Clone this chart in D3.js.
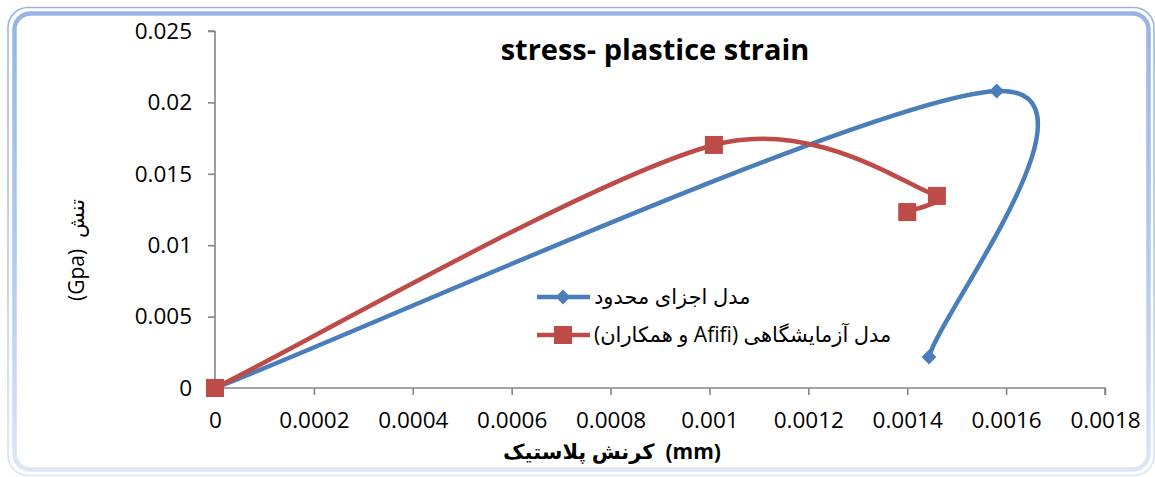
<!DOCTYPE html>
<html>
<head>
<meta charset="utf-8">
<script src="https://cdn.jsdelivr.net/npm/d3@7/dist/d3.min.js"></script>
<style>
  html, body { margin: 0; padding: 0; background: #fff; }
  svg { display: block; }
  text { font-family: "Open Sans", "DejaVu Sans", sans-serif; white-space: pre; }
</style>
</head>
<body>
<svg id="chart" width="1155" height="477"></svg>
<script>
// Series data: plastic strain (x) against stress in GPa (y)
const feStrain   = [0, 0.001581, 0.001444];
const feStress   = [0, 0.0208, 0.00217];
const expStrain  = [0, 0.001009, 0.00146, 0.0014];
const expStress  = [0, 0.01702, 0.01345, 0.01232];

const xTicks = [0, 0.0002, 0.0004, 0.0006, 0.0008, 0.001, 0.0012, 0.0014, 0.0016, 0.0018];
const yTicks = [0, 0.005, 0.01, 0.015, 0.02, 0.025];

const seriesNames = ["مدل اجزای محدود", "مدل آزمایشگاهی (Afifi و همکاران)"];
const seriesColors = ["#4a7ebb", "#be4b48"];

const titleText = "stress- plastice strain";
const xTitleText = "کرنش پلاستیک  (mm)";
const yTitleText = "(Gpa)  تنش";

const svg = d3.select("#chart");

// Rounded frame with a double light-blue border fading toward the bottom
const defs = svg.append("defs");
const grad = defs.append("linearGradient").attr("id", "frameGrad")
  .attr("x1", 0).attr("y1", 0).attr("x2", 0).attr("y2", 1);
grad.append("stop").attr("offset", "0%").attr("stop-color", "#98b4e4");
grad.append("stop").attr("offset", "60%").attr("stop-color", "#b9cced");
grad.append("stop").attr("offset", "100%").attr("stop-color", "#dde6f5");

svg.append("rect").attr("x", 8).attr("y", 7.5).attr("width", 1146).attr("height", 468)
  .attr("rx", 20).attr("fill", "none").attr("stroke", "url(#frameGrad)").attr("stroke-width", 1.6);
svg.append("rect").attr("x", 14.5).attr("y", 13.5).attr("width", 1134).attr("height", 456)
  .attr("rx", 16).attr("fill", "#fff").attr("stroke", "url(#frameGrad)").attr("stroke-width", 4.5);

// Scales
const x = d3.scaleLinear().domain([0, 0.0018]).range([215, 1105]);
const y = d3.scaleLinear().domain([0, 0.025]).range([388, 31]);

const axisColor = "#868686";

// Y axis
const yAxis = svg.append("g").attr("transform", "translate(215,0)")
  .call(d3.axisLeft(y).tickValues(yTicks).tickSize(7).tickPadding(16)
    .tickFormat(d => d === 0 ? "0" : String(+d.toFixed(3))));
// X axis
const xAxis = svg.append("g").attr("transform", "translate(0,388)")
  .call(d3.axisBottom(x).tickValues(xTicks).tickSize(7).tickPadding(17)
    .tickFormat(d => d === 0 ? "0" : String(+d.toFixed(4))));

[yAxis, xAxis].forEach(g => {
  g.select(".domain").attr("stroke", axisColor).attr("stroke-width", 1.6);
  g.selectAll(".tick line").attr("stroke", axisColor).attr("stroke-width", 1.6);
  g.selectAll(".tick text").attr("fill", "#000").style("font-size", "22.5px")
    .style("font-family", "'Open Sans', sans-serif");
});
yAxis.select(".domain").attr("d", `M0,${y(0.025)}H-7M0,${y(0.025)}V${y(0)}`);
xAxis.select(".domain").attr("d", `M${x(0)},0H${x(0.0018)}V7`);

// Smoothed line path: Catmull-Rom style Bezier segments whose control arms
// are limited relative to the length of the segment they belong to.
function smoothPath(pts) {
  const n = pts.length;
  const tang = pts.map((p, i) => {
    const a = pts[Math.max(0, i - 1)], b = pts[Math.min(n - 1, i + 1)];
    return [(b[0] - a[0]) / 6, (b[1] - a[1]) / 6];
  });
  const clampArm = (v, segLen) => {
    const len = Math.hypot(v[0], v[1]);
    const maxLen = 0.45 * segLen;
    if (len <= maxLen || len === 0) return v;
    return [v[0] * maxLen / len, v[1] * maxLen / len];
  };
  const path = d3.path();
  path.moveTo(pts[0][0], pts[0][1]);
  for (let i = 0; i < n - 1; i++) {
    const p0 = pts[i], p1 = pts[i + 1];
    const segLen = Math.hypot(p1[0] - p0[0], p1[1] - p0[1]);
    const a0 = clampArm(tang[i], segLen), a1 = clampArm(tang[i + 1], segLen);
    path.bezierCurveTo(p0[0] + a0[0], p0[1] + a0[1], p1[0] - a1[0], p1[1] - a1[1], p1[0], p1[1]);
  }
  return path.toString();
}

const fePts = feStrain.map((d, i) => [x(d), y(feStress[i])]);
const expPts = expStrain.map((d, i) => [x(d), y(expStress[i])]);

svg.append("path").attr("d", smoothPath(fePts)).attr("fill", "none")
  .attr("stroke", seriesColors[0]).attr("stroke-width", 4.5).attr("stroke-linejoin", "round");
svg.selectAll(".fe-mark").data(fePts).join("path").attr("class", "fe-mark")
  .attr("transform", d => `translate(${d[0]},${d[1]}) rotate(45)`)
  .attr("d", d3.symbol().type(d3.symbolSquare).size(110)).attr("fill", seriesColors[0]);

svg.append("path").attr("d", smoothPath(expPts)).attr("fill", "none")
  .attr("stroke", seriesColors[1]).attr("stroke-width", 4.5).attr("stroke-linejoin", "round");
svg.selectAll(".exp-mark").data(expPts).join("rect").attr("class", "exp-mark")
  .attr("x", d => d[0] - 9).attr("y", d => d[1] - 9)
  .attr("width", 18).attr("height", 18).attr("fill", seriesColors[1]);

// Title
svg.append("text").attr("x", 655).attr("y", 60).attr("text-anchor", "middle")
  .style("font-size", "29px").style("font-weight", "700").text(titleText);

// Axis titles
svg.append("text").attr("x", 612).attr("y", 459).attr("text-anchor", "middle")
  .attr("direction", "ltr").style("font-size", "21px").style("font-weight", "700")
  .text(xTitleText);
svg.append("text").attr("transform", "translate(84,250) rotate(-90)")
  .attr("text-anchor", "middle").attr("direction", "ltr")
  .style("font-size", "21px").text(yTitleText);

// Legend
const legend = svg.append("g");
const legendY = [297, 335];
legendY.forEach((ly, i) => {
  legend.append("line").attr("x1", 537).attr("x2", 590).attr("y1", ly).attr("y2", ly)
    .attr("stroke", seriesColors[i]).attr("stroke-width", 4.5);
  if (i === 0) {
    legend.append("path").attr("transform", `translate(563,${ly}) rotate(45)`)
      .attr("d", d3.symbol().type(d3.symbolSquare).size(110)).attr("fill", seriesColors[i]);
  } else {
    legend.append("rect").attr("x", 554).attr("y", ly - 9).attr("width", 18).attr("height", 18)
      .attr("fill", seriesColors[i]);
  }
  legend.append("text").attr("x", 594).attr("y", ly).attr("dy", "0.35em")
    .attr("direction", "rtl").attr("text-anchor", "end")
    .style("font-size", "21px").text(seriesNames[i]);
});
</script>
</body>
</html>
